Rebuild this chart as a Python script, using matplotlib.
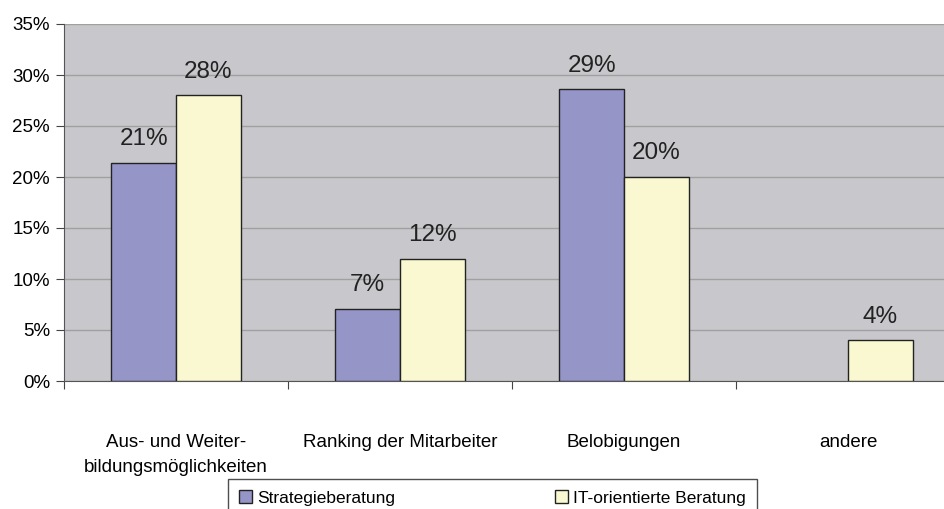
import matplotlib.pyplot as plt
import numpy as np
from matplotlib.ticker import MultipleLocator, FuncFormatter

plt.rcParams['font.family'] = ['Liberation Sans', 'DejaVu Sans']

# Daten
categories = ["Aus- und Weiter-\nbildungsmöglichkeiten", "Ranking der Mitarbeiter",
              "Belobigungen", "andere"]
strategie = [21.4, 7.1, 28.6, 0.0]
it_beratung = [28.0, 12.0, 20.0, 4.0]
strategie_labels = ["21%", "7%", "29%", None]
it_labels = ["28%", "12%", "20%", "4%"]
series_names = ["Strategieberatung", "IT-orientierte Beratung"]

col_purple = "#9595C8"
col_yellow = "#FAF8D0"
col_bg = "#C8C8CC"

fig = plt.figure(figsize=(9.45, 5.09), dpi=100)
ax = fig.add_axes([64 / 945, 1 - 381 / 509, 896 / 945, 357 / 509])
ax.set_facecolor(col_bg)

x = np.arange(len(categories))
w = 0.288
b1 = ax.bar(x - w / 2, strategie, w, color=col_purple, edgecolor="#222222", linewidth=1,
            label=series_names[0], zorder=3)
b2 = ax.bar(x + w / 2, it_beratung, w, color=col_yellow, edgecolor="#222222", linewidth=1,
            label=series_names[1], zorder=3)
# leere Balken nicht zeichnen
for rect in list(b1) + list(b2):
    if rect.get_height() == 0:
        rect.set_visible(False)

# Beschriftungen ueber den Balken
for bars, labels in [(b1, strategie_labels), (b2, it_labels)]:
    for rect, lab in zip(bars, labels):
        if lab:
            ax.annotate(lab, (rect.get_x() + rect.get_width() / 2, rect.get_height()),
                        xytext=(0, 17), textcoords="offset points", ha="center", va="center",
                        fontsize=17.5, color="#222222")

ax.set_ylim(0, 35)
ax.set_xlim(-0.5, len(categories) - 0.5)
ax.yaxis.set_major_locator(MultipleLocator(5))
ax.yaxis.set_major_formatter(FuncFormatter(lambda v, p: f"{v:.0f}%"))
ax.grid(axis="y", color="#A0A0A0", linewidth=1, zorder=0)
ax.set_axisbelow(True)

ax.set_xticks(np.arange(-0.5, len(categories), 1))
ax.set_xticklabels([])
ax.set_xticks(x, minor=True)
ax.set_xticklabels(categories, minor=True, fontsize=13.5, linespacing=1.6)
ax.tick_params(axis="x", which="minor", length=0, pad=38)
ax.tick_params(axis="x", which="major", length=6, color="#444444")
ax.tick_params(axis="y", length=6, labelsize=13.5, color="#444444", pad=4)

for s in ["top", "right"]:
    ax.spines[s].set_visible(False)
ax.spines["left"].set_color("#555555")
ax.spines["bottom"].set_color("#555555")

leg = fig.legend(handles=[b1, b2], loc="upper left", bbox_to_anchor=(228 / 945, 1 - 479 / 509),
                 ncol=2, fontsize=12.5, frameon=True, fancybox=False, edgecolor="#222222",
                 handlelength=0.75, handleheight=0.75, handletextpad=0.3, columnspacing=9.2,
                 borderpad=0.65, borderaxespad=0)
leg.get_frame().set_linewidth(1)

fig.savefig("out.png", dpi=100)
